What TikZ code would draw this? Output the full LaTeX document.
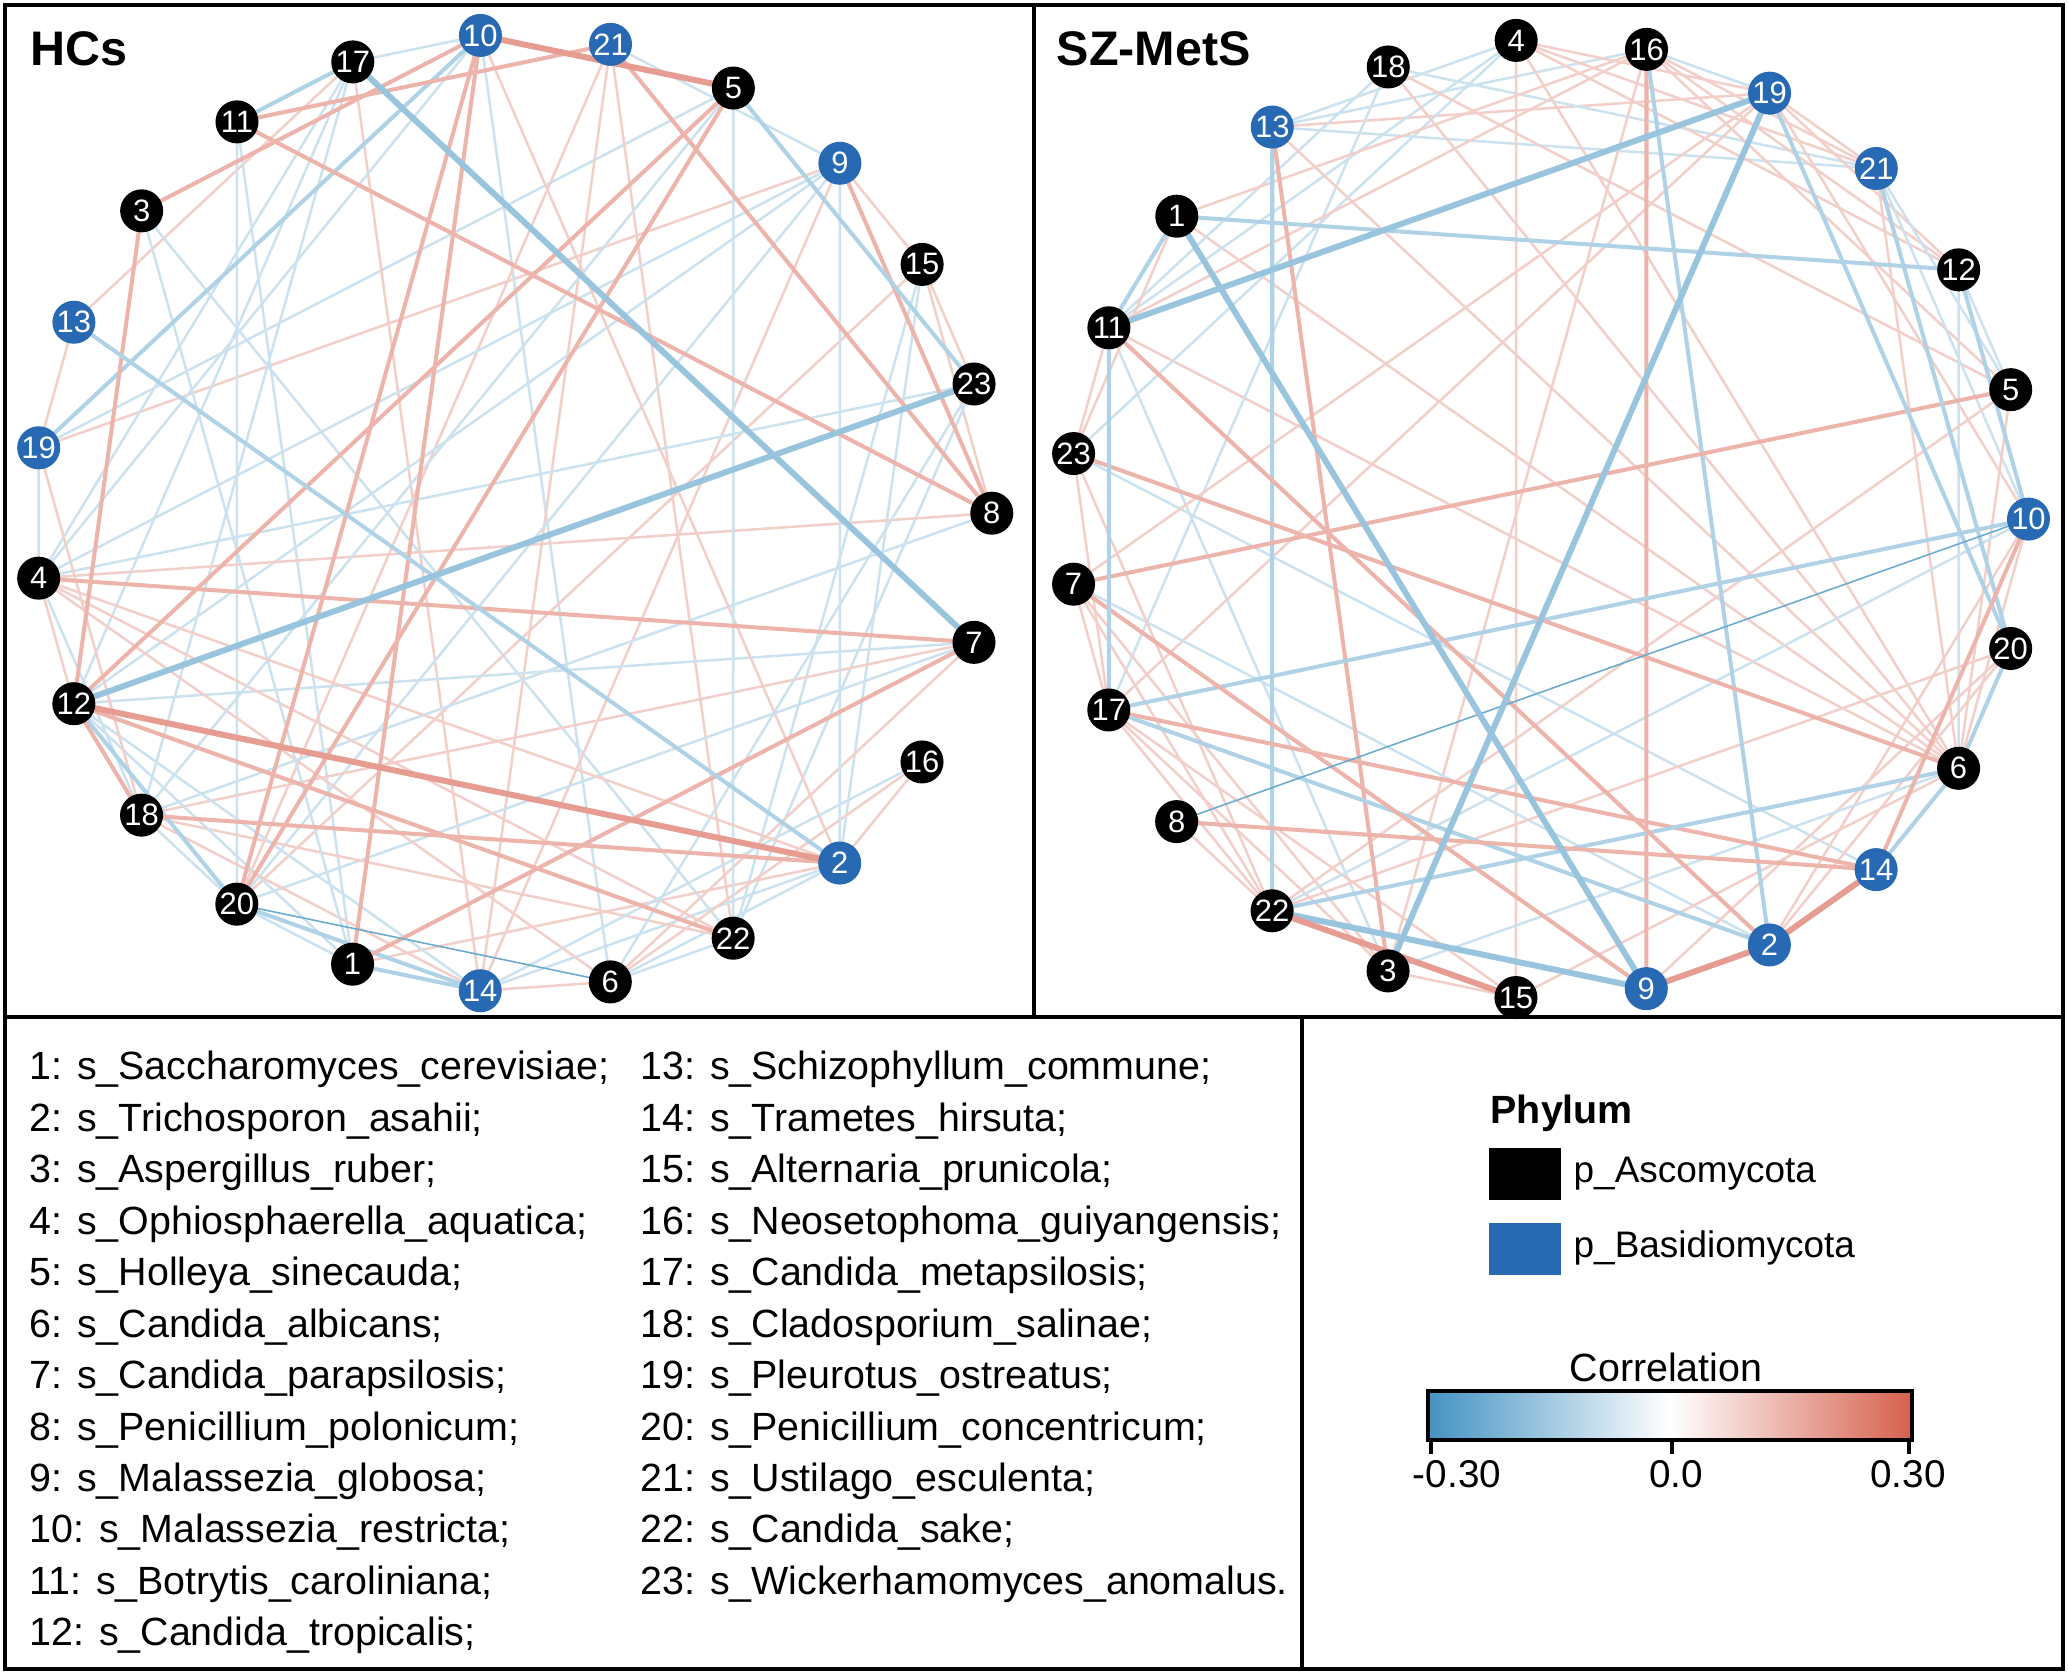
\documentclass[tikz,border=0pt]{standalone}
\usepackage{fontspec}
\setmainfont{Liberation Sans}
\usetikzlibrary{backgrounds}
\definecolor{redE}{RGB}{214,96,77}
\definecolor{bluE}{RGB}{67,147,195}
\definecolor{nodeB}{RGB}{40,105,180}
\tikzset{
 rT/.style={draw=redE!62, line width=1.7pt},
 rM/.style={draw=redE!47, line width=1.15pt},
 rL/.style={draw=redE!30, line width=0.72pt},
 bT/.style={draw=bluE!55, line width=1.7pt},
 bM/.style={draw=bluE!42, line width=1.15pt},
 bL/.style={draw=bluE!27, line width=0.72pt},
 bD/.style={draw=bluE!78, line width=0.45pt},
 nk/.style={circle, fill=black, text=white, inner sep=0pt, minimum size=0.43cm, font=\fontsize{8.8}{8.8}\selectfont},
 nb/.style={nk, fill=nodeB},
 lt/.style={anchor=base west, inner sep=0pt, font=\fontsize{11.2}{13}\selectfont},
 frame/.style={line width=1.1pt}
}
\begin{document}
\begin{tikzpicture}[x=0.01cm, y=-0.01cm]
\useasboundingbox (0,0) rectangle (2068,1674);
% frames
\draw[frame] (5,5) rectangle (2063,1669);
\draw[frame] (1034,5) -- (1034,1017);
\draw[frame] (5,1017) -- (2063,1017);
\draw[frame] (1302,1017) -- (1302,1669);
% titles
\node[anchor=base west, inner sep=0pt, font=\bfseries\fontsize{13.8}{16}\selectfont] (tHC) at (30,66) {HCs};
\node[anchor=base west, inner sep=0pt, font=\bfseries\fontsize{13.8}{16}\selectfont] (tSZ) at (1056,66) {SZ-MetS};
% HCs nodes
\foreach \n/\st [count=\i from 0] in {10/nb,21/nb,5/nk,9/nb,15/nk,23/nk,8/nk,7/nk,16/nk,2/nb,22/nk,6/nk,14/nb,1/nk,20/nk,18/nk,12/nk,4/nk,19/nb,13/nb,3/nk,11/nk,17/nk}
  \node[\st] (h\n) at ({513+478.8*cos(93.9-\i*360/23)}, {513.1-478.8*sin(93.9-\i*360/23)}) {\n};
% SZ nodes
\foreach \n/\st [count=\i from 0] in {4/nk,16/nk,19/nb,21/nb,12/nk,5/nk,10/nb,20/nk,6/nk,14/nb,2/nb,9/nb,15/nk,3/nk,22/nk,8/nk,17/nk,7/nk,23/nk,11/nk,1/nk,13/nb,18/nk}
  \node[\st] (s\n) at ({1548.8+479.7*cos(93.9-\i*360/23)}, {519.0-479.7*sin(93.9-\i*360/23)}) {\n};
\begin{scope}[on background layer]
% HCs edges
\foreach \a/\b/\s in {
17/10/bL, 13/17/rL, 13/19/rL, 19/4/bL, 4/12/rL, 19/5/bL, 19/9/rL, 17/4/bL, 17/12/bL, 17/18/bL,
17/14/rL, 3/22/bL, 11/20/bL, 11/1/bL, 10/6/bL, 10/4/bL, 21/9/bL, 21/14/rL, 21/22/rL, 21/20/rL,
9/15/rL, 9/4/bL, 9/12/bL, 9/14/rL, 9/20/bL, 15/23/rL, 15/8/rL, 15/2/bL, 15/22/bL, 15/20/rL,
23/22/bL, 23/4/bL, 8/4/rL, 8/18/bL, 7/12/bL, 7/18/rL, 7/20/bL, 7/6/rL, 2/10/rL, 2/16/rL,
2/14/bL, 2/6/bL, 2/1/rL, 22/18/rL, 22/6/bL, 22/4/rL, 6/14/rL, 6/16/rL, 6/23/bL, 12/1/bL,
12/14/bL, 18/20/bL, 18/14/rL, 1/20/bL, 16/14/bL, 4/6/rL, 5/18/bL, 5/22/bL, 3/1/bL, 4/18/bL,
4/2/rL, 19/18/rL, 9/2/bL,
12/5/rM, 20/5/rM, 10/1/rM, 10/20/rM, 12/20/bM, 20/14/bM, 1/14/bM, 17/11/bM, 12/18/rM, 12/22/rM, 9/8/rM,
19/10/bM, 11/21/rM, 3/10/rM, 11/8/rM, 21/8/rM, 18/2/rM, 4/7/rM, 1/7/rM, 3/12/rM, 5/23/bM, 13/2/bM,
20/6/bD, 17/7/bT, 12/23/bT, 12/2/rT, 10/5/rT}
  \draw[\s] (h\a.center) -- (h\b.center);
% SZ edges
\foreach \a/\b/\s in {
13/16/bL, 13/4/bL, 13/19/rL, 13/21/bL, 1/6/rL, 11/4/bL, 11/18/bL, 11/3/bL, 11/6/rL, 23/14/bL, 23/4/bL,
23/11/rL, 23/17/rL, 18/21/bL, 18/5/rL, 18/6/rL, 18/17/bL, 4/15/rL, 4/12/rL, 4/21/rL, 4/19/rL,
16/19/bL, 16/21/rL, 16/12/rL, 16/5/rL, 16/1/rL, 16/11/rL, 16/3/rL, 19/7/rL, 19/17/rL, 19/12/rL, 19/21/rL,
19/10/rL, 21/6/rL, 21/10/bL, 21/5/bL, 12/6/bL, 12/5/bL, 5/22/rL, 5/6/rL, 7/17/rL, 7/2/bL,
7/22/rL, 7/3/rL, 17/3/rL, 17/15/rL, 8/22/rL, 3/15/rL, 10/22/bL, 10/6/rL, 10/2/rL, 20/22/rL,
20/9/rL, 20/2/rL, 6/4/rL, 6/13/rL, 22/23/rL, 22/17/rL, 3/6/bL, 23/1/rL, 15/6/rL,
16/9/rM, 13/22/bM, 13/3/rM, 16/2/bM, 17/10/bM, 17/14/rM, 17/2/bM, 7/5/rM, 23/6/rM, 22/6/bM,
6/14/bM, 20/6/bM, 12/10/bM, 19/20/bM, 21/20/bM, 11/2/rM, 8/14/rM, 7/9/rM, 14/10/rM, 11/1/bM,
1/12/bM, 11/17/bM, 8/10/bD,
19/3/bT, 11/19/bT, 1/9/bT, 22/9/bT, 22/15/rT, 9/2/rT, 2/14/rT}
  \draw[\s] (s\a.center) -- (s\b.center);
\end{scope}
% species list
\foreach \t [count=\i] in {1: s\_Saccharomyces\_cerevisiae;, 2: s\_Trichosporon\_asahii;, 3: s\_Aspergillus\_ruber;, 4: s\_Ophiosphaerella\_aquatica;, 5: s\_Holleya\_sinecauda;, 6: s\_Candida\_albicans;, 7: s\_Candida\_parapsilosis;, 8: s\_Penicillium\_polonicum;, 9: s\_Malassezia\_globosa;, 10: s\_Malassezia\_restricta;, 11: s\_Botrytis\_caroliniana;, 12: s\_Candida\_tropicalis;}
  \node[lt] (la\i) at (29, {1080+(\i-1)*51.44}) {\t};
\foreach \t [count=\i] in {13: s\_Schizophyllum\_commune;, 14: s\_Trametes\_hirsuta;, 15: s\_Alternaria\_prunicola;, 16: s\_Neosetophoma\_guiyangensis;, 17: s\_Candida\_metapsilosis;, 18: s\_Cladosporium\_salinae;, 19: s\_Pleurotus\_ostreatus;, 20: s\_Penicillium\_concentricum;, 21: s\_Ustilago\_esculenta;, 22: s\_Candida\_sake;, 23: s\_Wickerhamomyces\_anomalus.}
  \node[lt] (lb\i) at (640, {1080+(\i-1)*51.44}) {\t};
% phylum legend
\node[anchor=base west, inner sep=0pt, font=\bfseries\fontsize{11.2}{13}\selectfont] (phy) at (1490,1124) {Phylum};
\node[fill=black, inner sep=0pt, minimum width=0.72cm, minimum height=0.52cm, anchor=north west] (sqA) at (1488,1147) {};
\node[fill=nodeB, inner sep=0pt, minimum width=0.72cm, minimum height=0.52cm, anchor=north west] (sqB) at (1488,1222) {};
\node[anchor=base west, inner sep=0pt, font=\fontsize{10.5}{12}\selectfont] (tA) at (1573,1183) {p\_Ascomycota};
\node[anchor=base west, inner sep=0pt, font=\fontsize{10.5}{12}\selectfont] (tB) at (1573,1258) {p\_Basidiomycota};
% correlation bar
\node[anchor=base, inner sep=0pt, font=\fontsize{11.2}{13}\selectfont] (corr) at (1666,1382) {Correlation};
\shade[left color=bluE, right color=redE, middle color=white] (1428,1391) rectangle (1912,1440);
\draw[frame] (1428,1391) rectangle (1912,1440);
\draw[frame] (1431,1440) -- (1431,1454);
\draw[frame] (1672,1440) -- (1672,1454);
\draw[frame] (1909,1440) -- (1909,1454);
\node[anchor=base, inner sep=0pt, font=\fontsize{11}{13}\selectfont] (k1) at (1457,1488) {-0.30};
\node[anchor=base, inner sep=0pt, font=\fontsize{11}{13}\selectfont] (k2) at (1676,1488) {0.0};
\node[anchor=base, inner sep=0pt, font=\fontsize{11}{13}\selectfont] (k3) at (1908,1488) {0.30};
\end{tikzpicture}
\end{document}
